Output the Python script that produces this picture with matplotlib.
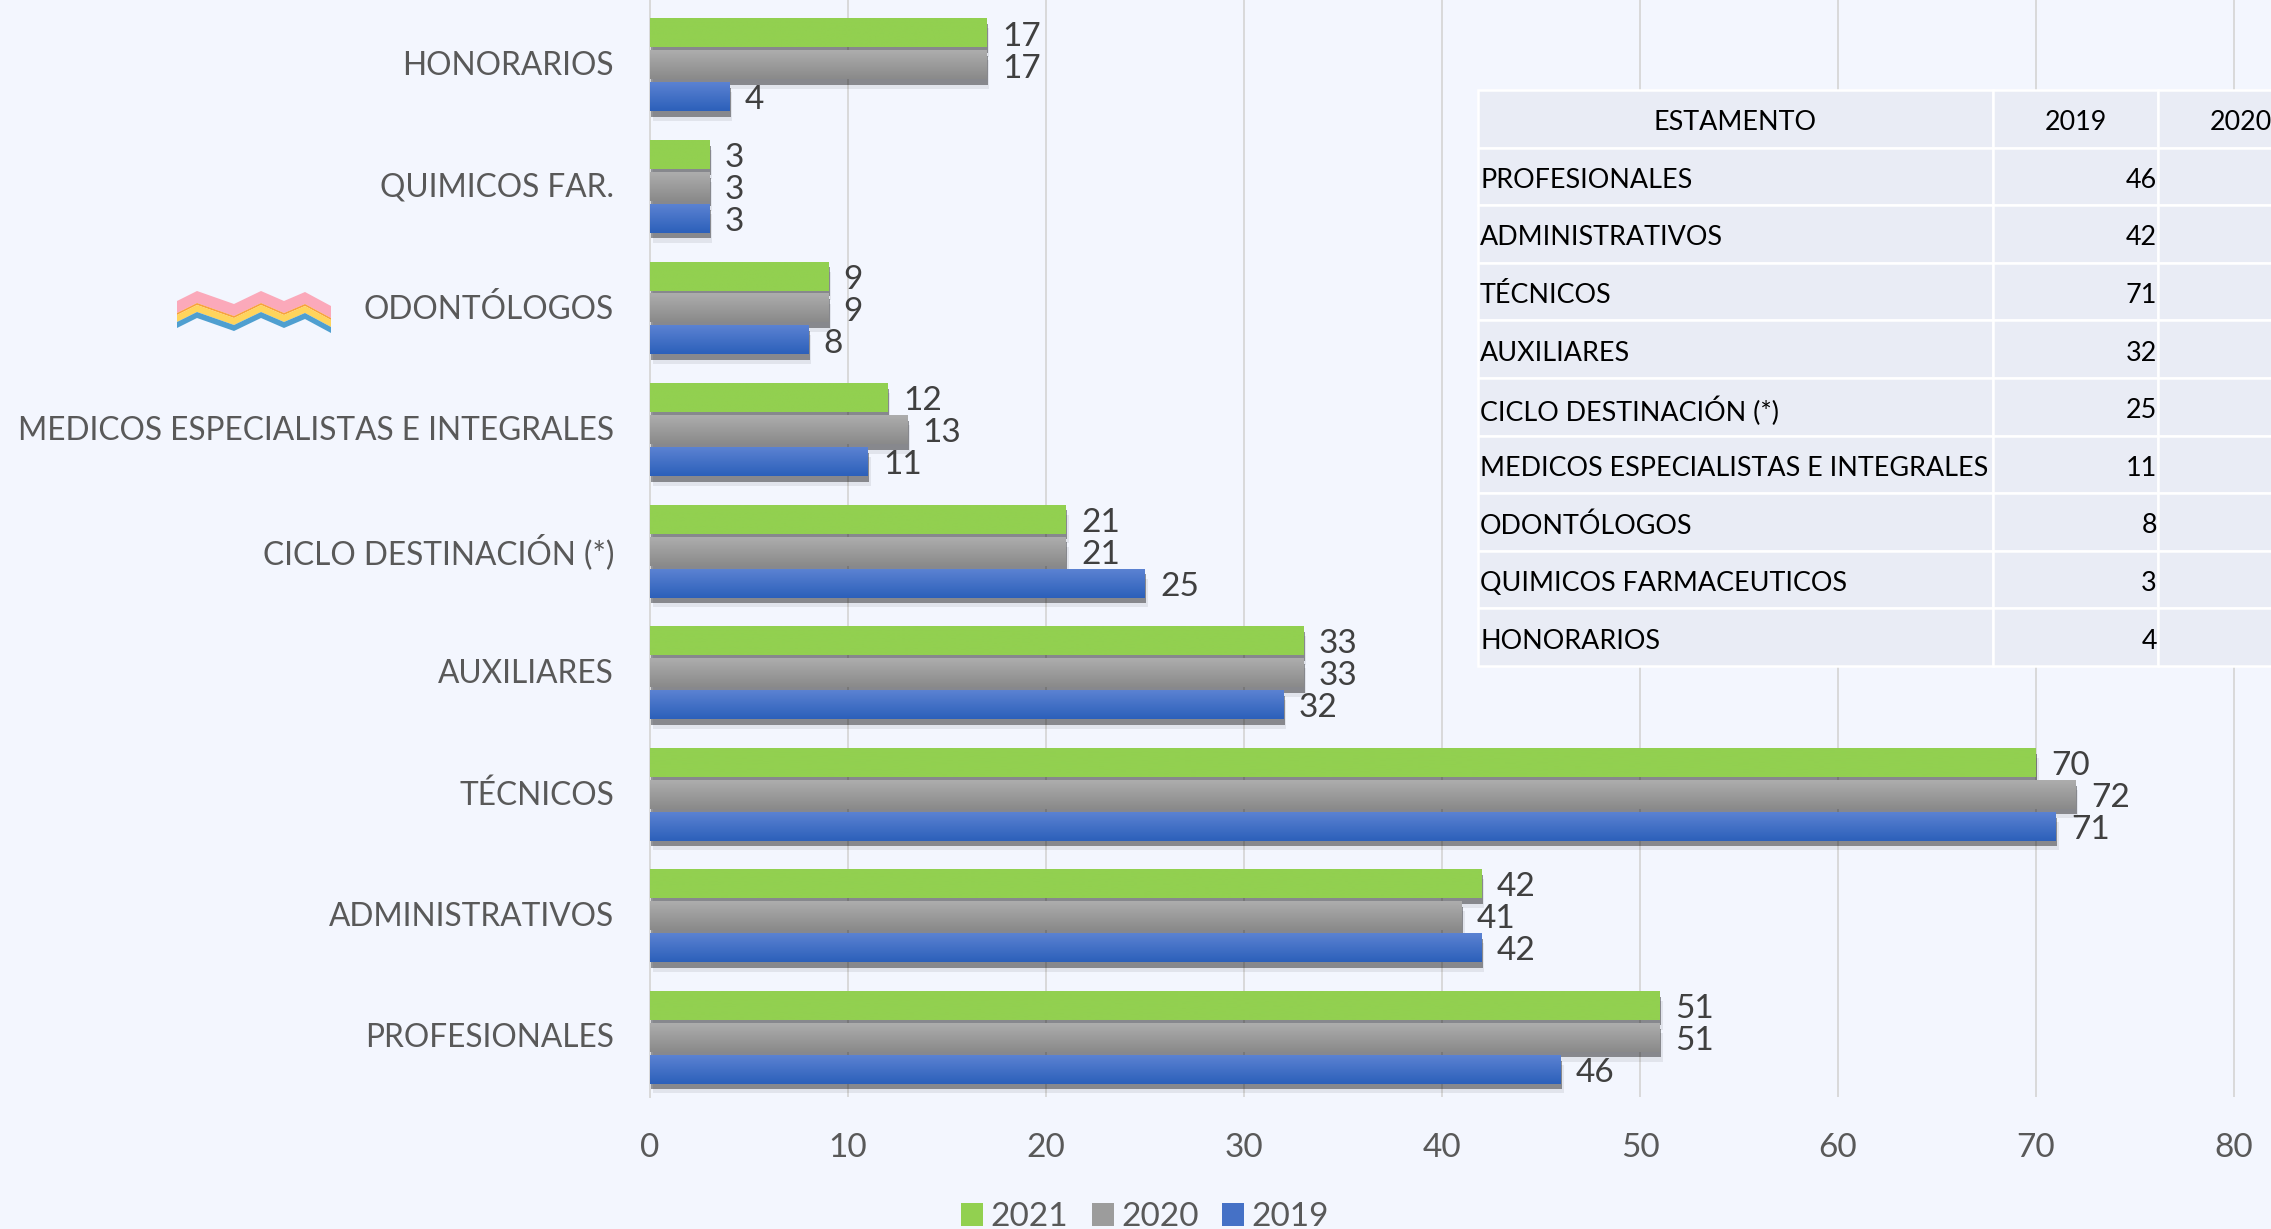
import numpy as np
import matplotlib
matplotlib.use("Agg")
import matplotlib.pyplot as plt
import matplotlib.patheffects as pe
from matplotlib.patches import Patch, Polygon
from matplotlib.table import Table
from matplotlib.colors import LinearSegmentedColormap
from matplotlib.transforms import IdentityTransform, Affine2D, ScaledTranslation

plt.rcParams['font.family'] = ['Lato', 'DejaVu Sans']

axis_labels = ["PROFESIONALES", "ADMINISTRATIVOS", "TÉCNICOS", "AUXILIARES", "CICLO DESTINACIÓN (*)",
               "MEDICOS ESPECIALISTAS E INTEGRALES", "ODONTÓLOGOS", "QUIMICOS FAR.", "HONORARIOS"]
table_labels = ["PROFESIONALES", "ADMINISTRATIVOS", "TÉCNICOS", "AUXILIARES", "CICLO DESTINACIÓN (*)",
                "MEDICOS ESPECIALISTAS E INTEGRALES", "ODONTÓLOGOS", "QUIMICOS FARMACEUTICOS", "HONORARIOS"]
v2019 = [46, 42, 71, 32, 25, 11, 8, 3, 4]
v2020 = [51, 41, 72, 33, 21, 13, 9, 3, 17]
v2021 = [51, 42, 70, 33, 21, 12, 9, 3, 17]
x_ticks = [0, 10, 20, 30, 40, 50, 60, 70, 80]
table_header = ["ESTAMENTO", "2019", "2020"]

W, H = 2271, 1229
BG = '#F3F6FE'
XLIM = (0, (W-650)/19.8)
YLIM = (-0.49, 8.535)
fig = plt.figure(figsize=(W/100, H/100), dpi=100, facecolor=BG)
ax = fig.add_axes([650/W, (H-1097)/H, (W-650)/W, 1097/H], facecolor=BG)
ax.grid(axis='x', color='#D9D9D9', lw=1.4, zorder=0)
ax.set_axisbelow(True)
for s in ['top', 'right', 'bottom']:
    ax.spines[s].set_visible(False)
ax.spines['left'].set_color('#D9D9D9')
ax.spines['left'].set_linewidth(1.4)

ypos = np.arange(len(axis_labels))
pitch = 0.263
height = 0.236
series = [
    (v2019, -pitch, '#5B82D2', '#2C60BA', '2019'),
    (v2020, 0, '#ADADAD', '#8A8A8A', '2020'),
    (v2021, pitch, '#92D050', '#92D050', '2021'),
]
shadow = [pe.withSimplePatchShadow(offset=(2, -7), shadow_rgbFace='k', alpha=0.07),
          pe.withSimplePatchShadow(offset=(1, -4), shadow_rgbFace='k', alpha=0.40)]
for vals, off, top, bot, name in series:
    bars = ax.barh(ypos + off, vals, height=height, color=bot, zorder=3, path_effects=shadow)
    cmap = LinearSegmentedColormap.from_list(name, [top, bot])
    grad = np.linspace(0, 1, 64).reshape(-1, 1)
    for r in bars:
        ax.imshow(grad, cmap=cmap, aspect='auto', zorder=3.1, origin='upper',
                  extent=[r.get_x(), r.get_x()+r.get_width(), r.get_y(), r.get_y()+r.get_height()])
    for y, v in zip(ypos + off, vals):
        ax.annotate(str(v), (v, y), xytext=(11, -2.5), textcoords='offset points', va='center', ha='left',
                    fontsize=24, color='#404040', zorder=5)
ax.set_xlim(*XLIM)
ax.set_ylim(*YLIM)

ax.set_yticks(ypos, axis_labels)
ax.set_xticks(x_ticks, [str(t) for t in x_ticks])
ax.tick_params(axis='y', length=0, pad=26, labelsize=22.8, labelcolor='#595959')
ax.tick_params(axis='x', length=0, pad=26, labelsize=24, labelcolor='#595959')
for lab in ax.get_yticklabels():
    lab.set_transform(lab.get_transform() + ScaledTranslation(0, 2/100, fig.dpi_scale_trans))

# table
px0, py0 = 1478, 90
col_w = [515, 165, 165]
row_h = 57.6
n_rows = len(table_labels) + 1
tot_w = sum(col_w)
axw, axh = W-650, 1097
tbl = Table(ax, bbox=[(px0-650)/axw, (1097-(py0+row_h*n_rows))/axh, tot_w/axw, row_h*n_rows/axh])
rows = [table_header] + [[l, str(a), str(b)] for l, a, b in zip(table_labels, v2019, v2020)]
for i, row in enumerate(rows):
    for j, txt in enumerate(row):
        loc = 'center' if i == 0 else ('left' if j == 0 else 'right')
        c = tbl.add_cell(i, j, col_w[j]/tot_w, 1/n_rows, text=txt, loc=loc, facecolor='#E9ECF5', edgecolor='white')
        c.set_linewidth(1.8)
        c.PAD = 0.004 if j == 0 else 0.006
        t = c.get_text()
        t.set_fontsize(19.4)
        t.set_color('black')
        t.set_transform(Affine2D().translate(0, -4))
tbl.auto_set_font_size(False)
tbl.set_zorder(6)
tbl.set_clip_on(False)
ax.add_table(tbl)

# legend
handles = [Patch(facecolor='#92D050', label='2021'), Patch(facecolor='#9C9C9C', label='2020'),
           Patch(facecolor='#4571C6', label='2019')]
fig.legend(handles=handles, ncol=3, loc='center', bbox_to_anchor=(1145/W, 1-1217/H), frameon=False,
           fontsize=24, labelcolor='#595959', handlelength=0.66, handleheight=0.66, handletextpad=0.22,
           columnspacing=0.72, borderpad=0)

# decorative zigzag
zx = np.array([177, 197, 234, 261, 284, 305, 331])
zy = np.array([301, 291, 304, 291, 301, 292, 306])
for d0, d1, col in [(0, 12, '#FBA9BA'), (12, 14, '#F9A23C'), (14, 21, '#FFD45C'), (21, 27, '#4F9FD0')]:
    pts = np.r_[np.c_[zx, H-(zy+d0)], np.c_[zx[::-1], H-(zy[::-1]+d1)]]
    fig.add_artist(Polygon(pts, closed=True, facecolor=col, edgecolor='none', transform=IdentityTransform()))

fig.savefig('out.png', dpi=100, facecolor=BG)
